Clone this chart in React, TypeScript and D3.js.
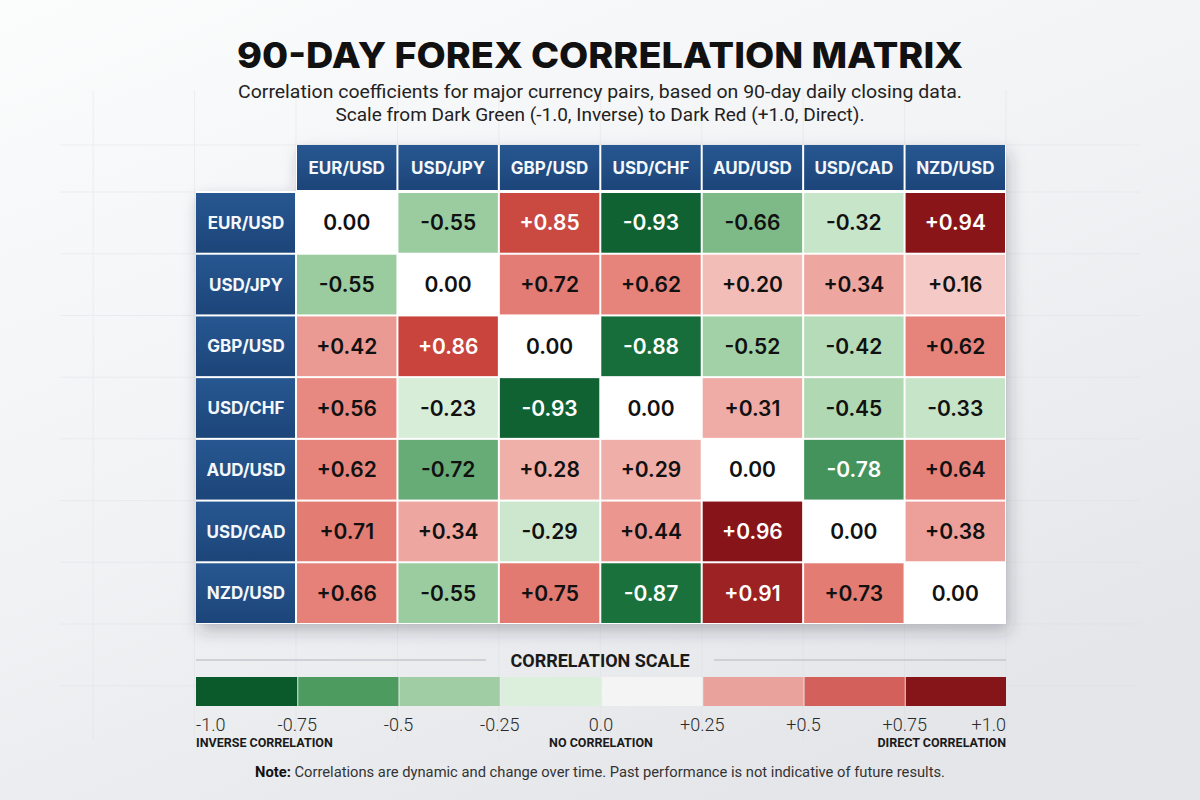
import React from "react";
import * as d3 from "d3";

const pairs = ["EUR/USD", "USD/JPY", "GBP/USD", "USD/CHF", "AUD/USD", "USD/CAD", "NZD/USD"];

// rows follow pairs order, columns follow pairs order
const eurRow = [0.0, -0.55, 0.85, -0.93, -0.66, -0.32, 0.94];
const jpyRow = [-0.55, 0.0, 0.72, 0.62, 0.2, 0.34, 0.16];
const gbpRow = [0.42, 0.86, 0.0, -0.88, -0.52, -0.42, 0.62];
const chfRow = [0.56, -0.23, -0.93, 0.0, 0.31, -0.45, -0.33];
const audRow = [0.62, -0.72, 0.28, 0.29, 0.0, -0.78, 0.64];
const cadRow = [0.71, 0.34, -0.29, 0.44, 0.96, 0.0, 0.38];
const nzdRow = [0.66, -0.55, 0.75, -0.87, 0.91, 0.73, 0.0];
const matrix = [eurRow, jpyRow, gbpRow, chfRow, audRow, cadRow, nzdRow];

const scaleTicks = [-1, -0.75, -0.5, -0.25, 0, 0.25, 0.5, 0.75, 1];
const scaleTickLabels = ["-1.0", "-0.75", "-0.5", "-0.25", "0.0", "+0.25", "+0.5", "+0.75", "+1.0"];
const scaleSwatches = ["#0b5a2c", "#4d9b5f", "#a1cda4", "#dcefdc", "#f4f4f4", "#e9a29c", "#d3605a", "#86151a"];
const scaleNotes = ["INVERSE CORRELATION", "NO CORRELATION", "DIRECT CORRELATION"];
const scaleNoteAt = [-1, 0, 1];

const W = 1200;
const H = 800;
const left = 196;
const labelW = 100;
const right = 1006;
const headTop = 145;
const headBottom = 191;
const bodyTop = 192;
const bodyBottom = 624;

const cellColor = d3
  .scaleLinear<string>()
  .domain([-1, -0.85, -0.7, -0.5, -0.25, 0, 0.2, 0.5, 0.75, 0.86, 0.93, 1])
  .range(["#05502a", "#1d763e", "#72b47f", "#a7d4ab", "#d4ebd5", "#ffffff", "#f2bcb7", "#e98e86", "#e27a71", "#c8443c", "#8c1519", "#801218"])
  .clamp(true);

const fmt = (v: number) => (v > 0 ? "+" : v < 0 ? "-" : "") + Math.abs(v).toFixed(2);

export default function App() {
  const x = d3.scaleBand<string>().domain(pairs).range([left + labelW, right]);
  const y = d3.scaleBand<string>().domain(pairs).range([bodyTop, bodyBottom]);
  const legendX = d3.scaleLinear().domain([-1, 1]).range([left, right]);
  const segW = (right - left) / scaleSwatches.length;

  const gridXs = d3.range(-1, pairs.length + 2).map((i) => left + labelW + (i - 1) * x.bandwidth());
  const gridYs = [headTop, ...d3.range(0, pairs.length + 2).map((i) => bodyTop + i * y.bandwidth())];

  const sans = "Inter, 'Open Sans', sans-serif";
  const cond = "Roboto, 'Noto Sans', sans-serif";

  return (
    <svg
      width={W}
      height={H}
      viewBox={`0 0 ${W} ${H}`}
      style={{ position: "absolute", left: 0, top: 0, display: "block" }}
    >
      <defs>
        <linearGradient id="bg" x1="0" y1="0" x2="0.6" y2="1">
          <stop offset="0" stopColor="#fbfcfc" />
          <stop offset="0.55" stopColor="#f1f2f4" />
          <stop offset="1" stopColor="#e4e6e9" />
        </linearGradient>
        <linearGradient id="navy" x1="0" y1="0" x2="0" y2="1">
          <stop offset="0" stopColor="#275791" />
          <stop offset="1" stopColor="#1c4579" />
        </linearGradient>
        <filter id="shadow" x="-10%" y="-10%" width="120%" height="125%">
          <feDropShadow dx="3" dy="7" stdDeviation="8" floodColor="#2a3340" floodOpacity="0.28" />
        </filter>
      </defs>

      <rect width={W} height={H} fill="url(#bg)" />

      <g stroke="#d9dce1" strokeWidth={1} opacity={0.4}>
        {gridXs.map((gx) => (
          <line key={"gx" + gx} x1={gx} x2={gx} y1={90} y2={H - 60} />
        ))}
        {gridYs.map((gy) => (
          <line key={"gy" + gy} x1={60} x2={W - 60} y1={gy} y2={gy} />
        ))}
      </g>

      <text
        x={W / 2}
        y={68}
        textAnchor="middle"
        fontFamily={sans}
        fontWeight={800}
        fontSize={36}
        fill="#111"
        textLength={726}
        lengthAdjust="spacingAndGlyphs"
      >
        90-DAY FOREX CORRELATION MATRIX
      </text>
      <text x={W / 2} y={98} textAnchor="middle" fontFamily={cond} fontSize={19} fill="#222" textLength={724} lengthAdjust="spacingAndGlyphs">
        Correlation coefficients for major currency pairs, based on 90-day daily closing data.
      </text>
      <text x={W / 2} y={121} textAnchor="middle" fontFamily={cond} fontSize={19} fill="#222">
        Scale from Dark Green (-1.0, Inverse) to Dark Red (+1.0, Direct).
      </text>

      <g filter="url(#shadow)">
        <rect x={left + labelW} y={headTop} width={right - left - labelW} height={headBottom - headTop} fill="#fff" />
        <rect x={left} y={bodyTop - 1} width={right - left} height={bodyBottom - bodyTop + 1} fill="#fff" />
      </g>

      {pairs.map((p) => (
        <g key={"h" + p}>
          <rect x={x(p)! + 1} y={headTop} width={x.bandwidth() - 2} height={headBottom - headTop - 1} fill="url(#navy)" />
          <text
            x={x(p)! + x.bandwidth() / 2}
            y={(headTop + headBottom) / 2}
            dy="0.36em"
            textAnchor="middle"
            fontFamily={sans}
            fontWeight={700}
            fontSize={17}
            fill="#f4f7fb"
          >
            {p}
          </text>
        </g>
      ))}

      {pairs.map((p) => (
        <g key={"r" + p}>
          <rect x={left} y={y(p)! + 1} width={labelW - 1} height={y.bandwidth() - 2} fill="url(#navy)" />
          <text
            x={left + labelW / 2}
            y={y(p)! + y.bandwidth() / 2}
            dy="0.36em"
            textAnchor="middle"
            fontFamily={sans}
            fontWeight={700}
            fontSize={17}
            fill="#f4f7fb"
          >
            {p}
          </text>
        </g>
      ))}

      {matrix.map((row, ri) =>
        row.map((v, ci) => {
          const cx = x(pairs[ci])!;
          const cy = y(pairs[ri])!;
          return (
            <g key={`c${ri}-${ci}`}>
              <rect x={cx + 1} y={cy + 1} width={x.bandwidth() - 2} height={y.bandwidth() - 2} fill={cellColor(v)} />
              <text
                x={cx + x.bandwidth() / 2}
                y={cy + y.bandwidth() / 2}
                dy="0.36em"
                textAnchor="middle"
                fontFamily={sans}
                fontWeight={600}
                fontSize={21}
                fill={Math.abs(v) >= 0.77 ? "#fff" : "#111"}
              >
                {fmt(v)}
              </text>
            </g>
          );
        })
      )}

      <g>
        <line x1={left} x2={486} y1={660} y2={660} stroke="#c4c7cc" strokeWidth={1.5} />
        <line x1={714} x2={right} y1={660} y2={660} stroke="#c4c7cc" strokeWidth={1.5} />
        <text x={W / 2} y={667} textAnchor="middle" fontFamily={cond} fontWeight={700} fontSize={18} fill="#1a1a1a">
          CORRELATION SCALE
        </text>
        {scaleSwatches.map((c, i) => (
          <rect key={"s" + i} x={legendX(-1) + i * segW + (i ? 1 : 0)} y={677} width={segW - (i ? 1 : 0)} height={29} fill={c} />
        ))}
        {scaleTicks.map((t, i) => (
          <text
            key={"t" + t}
            x={legendX(t)}
            y={731}
            textAnchor={i === 0 ? "start" : i === scaleTicks.length - 1 ? "end" : "middle"}
            fontFamily={cond}
            fontWeight={300}
            fontSize={18}
            fill="#2a2a2a"
          >
            {scaleTickLabels[i]}
          </text>
        ))}
        {scaleNotes.map((n, i) => (
          <text
            key={n}
            x={legendX(scaleNoteAt[i])}
            y={747}
            textAnchor={i === 0 ? "start" : i === scaleNotes.length - 1 ? "end" : "middle"}
            fontFamily={cond}
            fontWeight={700}
            fontSize={12.5}
            fill="#1a1a1a"
          >
            {n}
          </text>
        ))}
      </g>

      <text x={W / 2} y={777} textAnchor="middle" fontFamily={cond} fontSize={14} fill="#333" textLength={690} lengthAdjust="spacingAndGlyphs">
        <tspan fontWeight={700} fill="#111">Note:</tspan> Correlations are dynamic and change over time. Past performance is not indicative of future results.
      </text>
    </svg>
  );
}
